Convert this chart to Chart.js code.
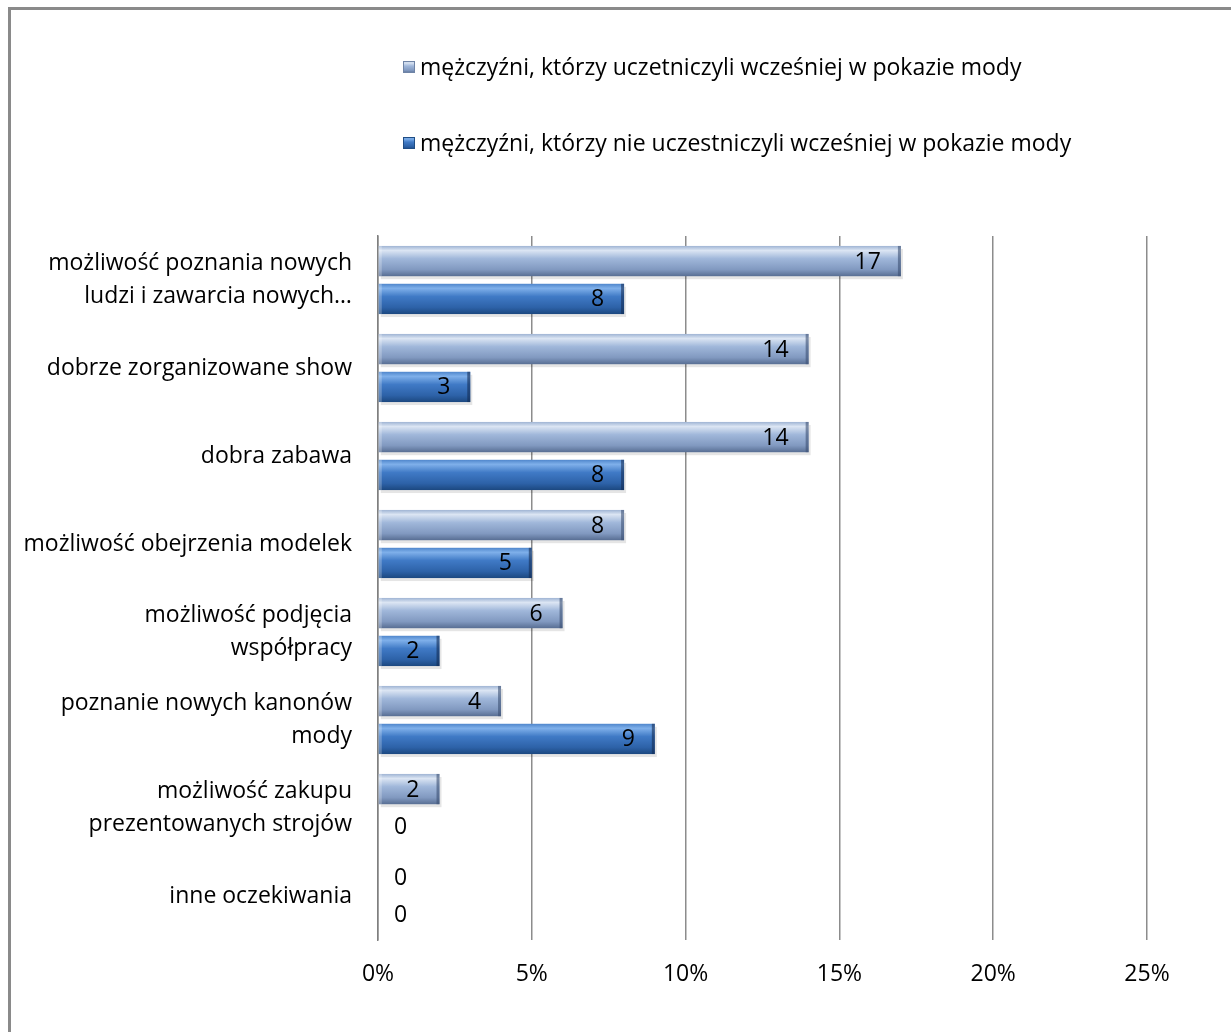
<!DOCTYPE html>
<html lang="pl">
<head>
<meta charset="utf-8">
<script src="https://cdn.jsdelivr.net/npm/chart.js@4/dist/chart.umd.min.js"></script>
<style>
html, body { margin: 0; padding: 0; background: #fff; overflow: hidden; }
#wrap { position: relative; width: 1231px; height: 1032px; overflow: hidden; }
#ramka { position: absolute; left: 8px; top: 7px; width: 1260px; height: 1060px;
         border-left: 3px solid #8a8a8a; border-top: 3px solid #8a8a8a; }
canvas { position: absolute; left: 0; top: 0; }
</style>
</head>
<body>
<div id="wrap">
  <div id="ramka"></div>
  <canvas id="wykres" width="1231" height="1032"></canvas>
</div>
<script>
// Kategorie (oś pionowa)
const kategorie = [
    ['możliwość poznania nowych', 'ludzi i zawarcia nowych…'],
    'dobrze zorganizowane show',
    'dobra zabawa',
    'możliwość obejrzenia modelek',
    ['możliwość podjęcia', 'współpracy'],
    ['poznanie nowych kanonów', 'mody'],
    ['możliwość zakupu', 'prezentowanych strojów'],
    'inne oczekiwania'
];

// Nazwy serii
const serie = [
    'mężczyźni, którzy uczetniczyli wcześniej w pokazie mody',
    'mężczyźni, którzy nie uczestniczyli wcześniej w pokazie mody'
];

// Wartości (%)
const uczestniczyli = [17, 14, 14, 8, 6, 4, 2, 0];
const nieUczestniczyli = [8, 3, 8, 5, 2, 9, 0, 0];

// Etykiety osi X
const osXMin = 0;
const osXMax = 25;
const osXKrok = 5;

const CZCIONKA = '"Open Sans", "Liberation Sans", sans-serif';
const ROZMIAR = 23;

// Gradienty słupków (góra -> dół)
const gradienty = [
    [[0, '#9fb4d4'], [0.15, '#dbe5f3'], [0.42, '#a0b7da'], [0.78, '#8199c0'], [1, '#586e93']],
    [[0, '#4f86cc'], [0.15, '#7fb0ea'], [0.42, '#407ac6'], [0.78, '#2d62a8'], [1, '#1c4880']]
];

function zrobGradient(ctx, y0, y1, nr) {
    const g = ctx.createLinearGradient(0, y0, 0, y1);
    gradienty[nr].forEach(s => g.addColorStop(s[0], s[1]));
    return g;
}

// Słupki z gradientem nakładanym na elementy biblioteki
const slupkiPlugin = {
    id: 'slupki',
    afterDatasetsDraw(chart) {
        const ctx = chart.ctx;
        ctx.save();
        chart.data.datasets.forEach((ds, i) => {
            const meta = chart.getDatasetMeta(i);
            meta.data.forEach(el => {
                const p = el.getProps(['x', 'y', 'base', 'height'], true);
                const szer = p.x - p.base;
                if (szer <= 0.5) return;
                const y0 = p.y - p.height / 2;
                // cień
                ctx.fillStyle = 'rgba(0,0,0,0.10)';
                ctx.fillRect(p.base + 2, y0 + 3, szer, p.height);
                ctx.fillStyle = zrobGradient(ctx, y0, y0 + p.height, i);
                ctx.fillRect(p.base, y0, szer, p.height);
                // zakończenie słupka
                ctx.fillStyle = i === 0 ? 'rgba(60,80,115,0.6)' : 'rgba(20,45,85,0.6)';
                ctx.fillRect(p.x - 3, y0, 3, p.height);
                ctx.fillStyle = 'rgba(255,255,255,0.25)';
                ctx.fillRect(p.base, y0, 3, p.height);
            });
        });
        ctx.restore();
    }
};

// Etykiety wartości
const etykietyPlugin = {
    id: 'etykiety',
    afterDatasetsDraw(chart) {
        const ctx = chart.ctx;
        ctx.save();
        ctx.font = ROZMIAR + 'px ' + CZCIONKA;
        ctx.fillStyle = '#000';
        ctx.textBaseline = 'middle';
        chart.data.datasets.forEach((ds, i) => {
            const meta = chart.getDatasetMeta(i);
            meta.data.forEach((el, j) => {
                const v = ds.data[j];
                const p = el.getProps(['x', 'y', 'base'], true);
                if (v > 0) {
                    ctx.textAlign = 'right';
                    ctx.fillText(String(v), p.x - 20, p.y + 1);
                } else {
                    ctx.textAlign = 'left';
                    ctx.fillText(String(v), p.base + 16, p.y + 1);
                }
            });
        });
        ctx.restore();
    }
};

// Legenda rysowana ręcznie (dwa wiersze, wyrównane do lewej)
const legendaPlugin = {
    id: 'legenda',
    afterDraw(chart) {
        const ctx = chart.ctx;
        const x = 403;
        const wiersze = [67, 143];
        ctx.save();
        ctx.font = ROZMIAR + 'px ' + CZCIONKA;
        ctx.textBaseline = 'middle';
        ctx.textAlign = 'left';
        chart.data.datasets.forEach((ds, i) => {
            const y = wiersze[i];
            ctx.fillStyle = zrobGradient(ctx, y - 6, y + 6, i);
            ctx.fillRect(x, y - 6, 12, 12);
            ctx.strokeStyle = i === 0 ? '#6f84a6' : '#1f4d85';
            ctx.lineWidth = 1;
            ctx.strokeRect(x + 0.5, y - 5.5, 11, 11);
            ctx.fillStyle = '#000';
            ctx.fillText(ds.label, x + 17, y + 1);
        });
        ctx.restore();
    }
};

const wykres = new Chart(document.getElementById('wykres'), {
    type: 'bar',
    data: {
        labels: kategorie,
        datasets: [
            { label: serie[0], data: uczestniczyli, backgroundColor: 'rgba(0,0,0,0)' },
            { label: serie[1], data: nieUczestniczyli, backgroundColor: 'rgba(0,0,0,0)' }
        ]
    },
    options: {
        indexAxis: 'y',
        responsive: false,
        animation: false,
        categoryPercentage: 0.86,
        barPercentage: 0.8,
        layout: { padding: { top: 236, right: 84, bottom: 0, left: 0 } },
        plugins: {
            legend: { display: false },
            tooltip: { enabled: false }
        },
        scales: {
            x: {
                min: osXMin,
                max: osXMax,
                ticks: {
                    stepSize: osXKrok,
                    padding: 21,
                    color: '#000',
                    font: { family: CZCIONKA, size: ROZMIAR },
                    callback: v => v + '%'
                },
                grid: { color: '#8c8c8c', lineWidth: 1.5, drawTicks: false },
                border: { display: false },
                afterFit(scale) { scale.height = 92; }
            },
            y: {
                ticks: {
                    padding: 26,
                    color: '#000',
                    font: { family: CZCIONKA, size: ROZMIAR, lineHeight: 1.45 }
                },
                grid: { display: false, drawTicks: false },
                border: { display: true, color: '#7f7f7f', width: 1.5 },
                afterFit(scale) { scale.width = 378; }
            }
        }
    },
    plugins: [slupkiPlugin, etykietyPlugin, legendaPlugin]
});
</script>
</body>
</html>
